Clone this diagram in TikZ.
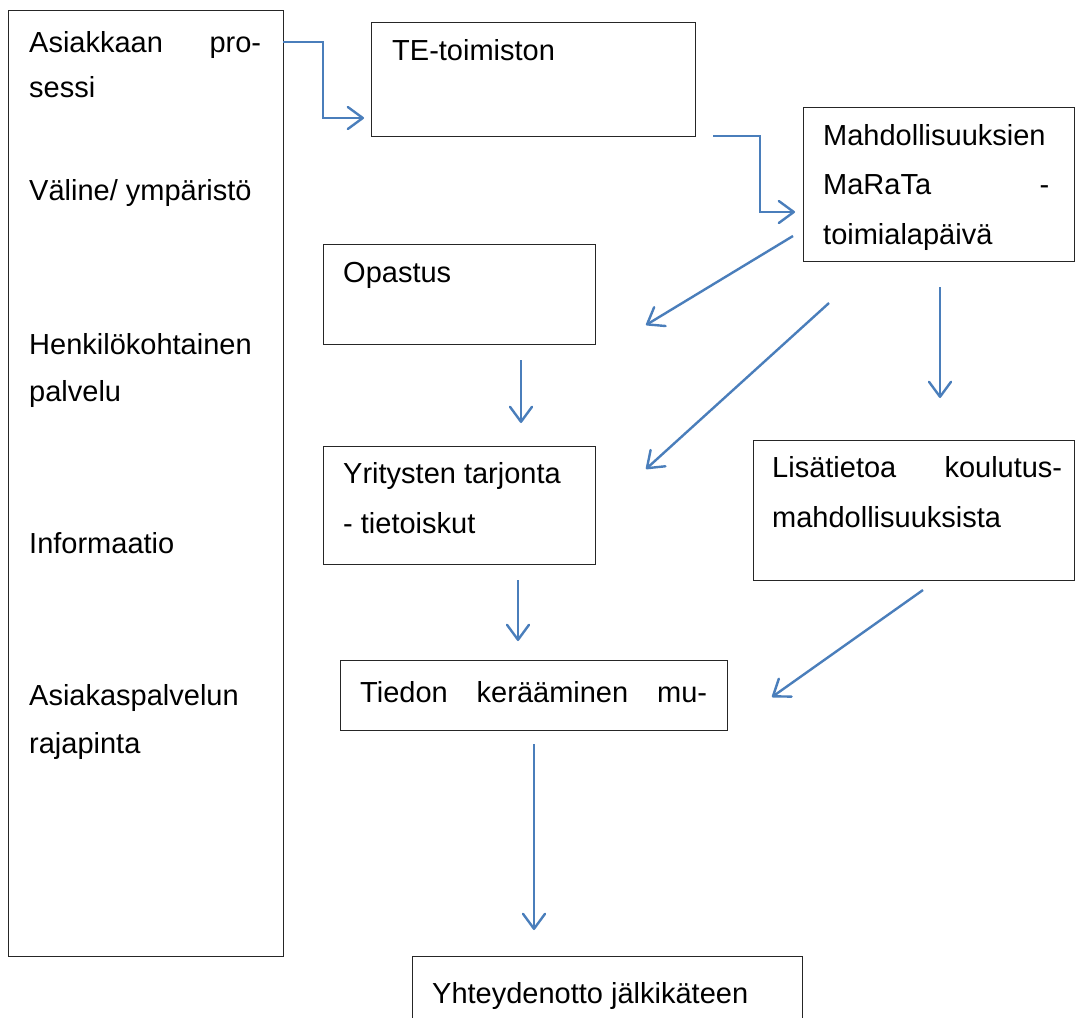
\documentclass[tikz,border=0pt]{standalone}
\usepackage{fontspec}
\setmainfont{Liberation Sans}
\usetikzlibrary{arrows.meta}
\definecolor{arrowblue}{HTML}{4A7EBB}
\begin{document}
\begin{tikzpicture}[x=1pt,y=-1pt,
  box/.style={draw=black!85, line width=1.2pt, inner sep=0pt, anchor=north west, fill=none},
  txt/.style={anchor=base west, inner sep=0pt, font=\fontsize{29}{50}\selectfont},
  arr/.style={draw=arrowblue, line width=2.4pt, line join=miter,
    -{Straight Barb[length=15pt,width=22pt,line width=2.4pt,round]}}]
\clip (0,0) rectangle (1075,1017);
\fill[white] (0,0) rectangle (1075,1017);
% boxes
\node[box, minimum width=275pt, minimum height=946pt] (left) at (8,10) {};
\node[box, minimum width=324pt, minimum height=114pt] (te) at (371,22) {};
\node[box, minimum width=271pt, minimum height=154pt] (mahd) at (803,107) {};
\node[box, minimum width=272pt, minimum height=100pt] (opas) at (323,244) {};
\node[box, minimum width=272pt, minimum height=118pt] (yrit) at (323,446) {};
\node[box, minimum width=321pt, minimum height=140pt] (lisa) at (753,440) {};
\node[box, minimum width=387pt, minimum height=70pt] (tied) at (340,660) {};
\node[box, minimum width=390pt, minimum height=80pt] (yhte) at (412,956) {};
% texts
\node[txt] (l1) at (29,52) {\hbox to 232pt{Asiakkaan\hfill pro-}};
\node[txt] (l2) at (29,97) {sessi};
\node[txt] (l3) at (29,200) {Väline/ ympäristö};
\node[txt] (l4) at (29,354) {Henkilökohtainen};
\node[txt] (l5) at (29,401) {palvelu};
\node[txt] (l6) at (29,553) {Informaatio};
\node[txt] (l7) at (29,705) {Asiakaspalvelun};
\node[txt] (l8) at (29,753) {rajapinta};
\node[txt] (t1) at (392,60) {TE-toimiston};
\node[txt] (m1) at (823,145) {Mahdollisuuksien};
\node[txt] (m2) at (823,194) {\hbox to 226pt{MaRaTa\hfill -}};
\node[txt] (m3) at (823,244) {toimialapäivä};
\node[txt] (o1) at (343,282) {Opastus};
\node[txt] (y1) at (343,483) {Yritysten tarjonta};
\node[txt] (y2) at (343,533) {- tietoiskut};
\node[txt] (s1) at (772,477) {\hbox to 290pt{Lisätietoa\hfill koulutus-}};
\node[txt] (s2) at (772,527) {mahdollisuuksista};
\node[txt] (k1) at (360,702) {\hbox to 347pt{Tiedon\hfill kerääminen\hfill mu-}};
\node[txt] (h1) at (432,1003) {Yhteydenotto jälkikäteen};
% connector end points
\coordinate (a1s) at (283,42);  \coordinate (a1e) at (364,118);
\coordinate (a2s) at (713,136); \coordinate (a2e) at (795,212);
\coordinate (a3s) at (793,236); \coordinate (a3e) at (646,325);
\coordinate (a4s) at (829,303); \coordinate (a4e) at (646,469);
\coordinate (a5s) at (940,287); \coordinate (a5e) at (940,398);
\coordinate (a6s) at (521,360); \coordinate (a6e) at (521,423);
\coordinate (a7s) at (518,580); \coordinate (a7e) at (518,641);
\coordinate (a8s) at (923,590); \coordinate (a8e) at (772,697);
\coordinate (a9s) at (534,744); \coordinate (a9e) at (534,930);
% connectors
\draw[arr] (a1s) -- (323,42) -- (323,118) -- (a1e);
\draw[arr] (a2s) -- (760,136) -- (760,212) -- (a2e);
\draw[arr] (a3s) -- (a3e);
\draw[arr] (a4s) -- (a4e);
\draw[arr] (a5s) -- (a5e);
\draw[arr] (a6s) -- (a6e);
\draw[arr] (a7s) -- (a7e);
\draw[arr] (a8s) -- (a8e);
\draw[arr] (a9s) -- (a9e);
\end{tikzpicture}
\end{document}
